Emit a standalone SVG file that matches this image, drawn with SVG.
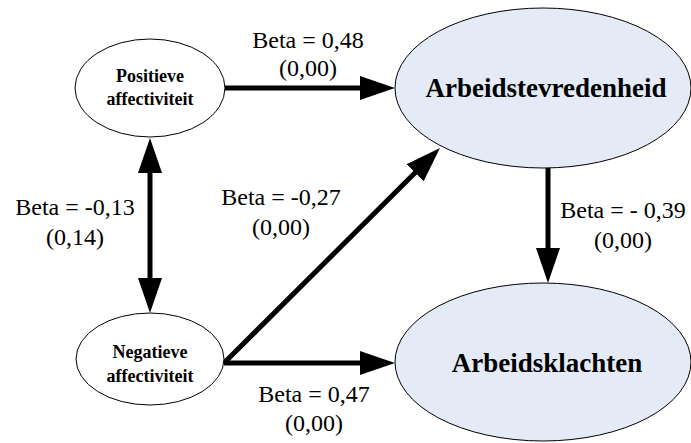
<svg xmlns="http://www.w3.org/2000/svg" width="691" height="443" viewBox="0 0 691 443">
  <style>
    .bg { fill: #ffffff; }
    .small { fill: #ffffff; stroke: #000000; stroke-width: 1; }
    .big { fill: #e5ebf6; stroke: #000000; stroke-width: 1; }
    .nodeSmall { font-family: "Liberation Serif", "Times New Roman", serif; font-weight: bold; font-size: 18px; fill: #000; text-anchor: middle; }
    .nodeBig { font-family: "Liberation Serif", "Times New Roman", serif; font-weight: bold; font-size: 27px; fill: #000; text-anchor: middle; }
    .lbl { font-family: "Liberation Serif", Tinos, "Times New Roman", "DejaVu Serif Condensed", "DejaVu Serif", serif; font-weight: normal; font-style: normal; font-size: 24px; fill: #000; text-anchor: middle; }
    .edge { stroke: #000000; stroke-width: 5; fill: none; }
  </style>
  <defs>
    <marker id="head" viewBox="0 -12 36 24" refX="2" refY="0" markerWidth="36" markerHeight="24" markerUnits="userSpaceOnUse" orient="auto-start-reverse">
      <path d="M0,-12 L35,0 L0,12 Z" fill="#000000"/>
    </marker>
  </defs>

  <rect class="bg" x="0" y="0" width="691" height="443"/>

  <g id="connectors">
    <line class="edge" x1="224" y1="88" x2="362" y2="88" marker-end="url(#head)"/>
    <line class="edge" x1="150" y1="171" x2="150" y2="280" marker-start="url(#head)" marker-end="url(#head)"/>
    <line class="edge" x1="224" y1="363" x2="416.6" y2="171.3" marker-end="url(#head)"/>
    <line class="edge" x1="224" y1="363" x2="362" y2="363" marker-end="url(#head)"/>
    <line class="edge" x1="548" y1="168" x2="548" y2="250" marker-end="url(#head)"/>
  </g>

  <g id="edge-labels">
    <text class="lbl" x="308" y="48">Beta = 0,48</text>
    <text class="lbl" x="308" y="76">(0,00)</text>
    <text class="lbl" x="75" y="215">Beta = -0,13</text>
    <text class="lbl" x="75" y="245">(0,14)</text>
    <text class="lbl" x="281" y="205">Beta = -0,27</text>
    <text class="lbl" x="281" y="235">(0,00)</text>
    <text class="lbl" x="314" y="402">Beta = 0,47</text>
    <text class="lbl" x="314" y="431">(0,00)</text>
    <text class="lbl" x="623" y="218">Beta = - 0,39</text>
    <text class="lbl" x="623" y="248">(0,00)</text>
  </g>

  <g id="positieve-affectiviteit">
    <ellipse class="small" cx="150" cy="88" rx="75" ry="49"/>
    <text class="nodeSmall" x="150" y="82">Positieve</text>
    <text class="nodeSmall" x="150" y="105">affectiviteit</text>
  </g>

  <g id="negatieve-affectiviteit">
    <ellipse class="small" cx="150" cy="359" rx="74" ry="46"/>
    <text class="nodeSmall" x="150" y="358">Negatieve</text>
    <text class="nodeSmall" x="150" y="382">affectiviteit</text>
  </g>

  <g id="arbeidstevredenheid">
    <ellipse class="big" cx="543" cy="88" rx="148" ry="80"/>
    <text class="nodeBig" x="546" y="97">Arbeidstevredenheid</text>
  </g>

  <g id="arbeidsklachten">
    <ellipse class="big" cx="543" cy="362" rx="148" ry="79"/>
    <text class="nodeBig" x="547" y="372">Arbeidsklachten</text>
  </g>
</svg>
